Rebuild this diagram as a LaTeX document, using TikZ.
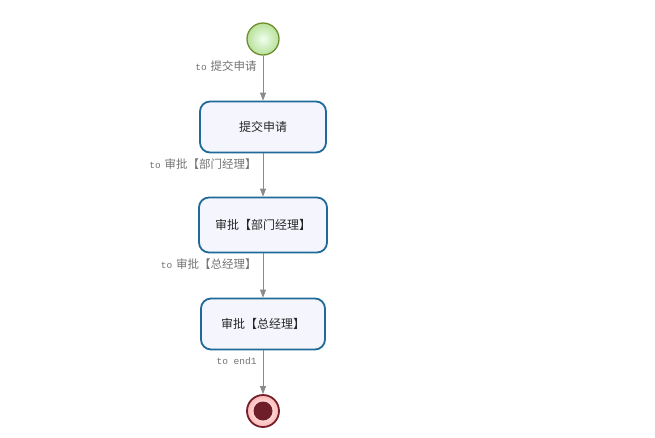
\documentclass[tikz,border=0pt]{standalone}
\usepackage{fontspec}
\usetikzlibrary{arrows.meta}
\newfontfamily\cjk{Noto Sans CJK SC}
\newfontfamily\labmono{Liberation Mono}
\definecolor{boxline}{HTML}{1E6A98}
\definecolor{boxfill}{HTML}{F5F6FD}
\definecolor{startline}{HTML}{6E8E2E}
\definecolor{endline}{HTML}{74202A}
\definecolor{flowgray}{HTML}{8A8A8A}
\tikzset{
  task/.style={draw=boxline, line width=1.8pt, fill=boxfill, rounded corners=10pt,
    minimum width=126pt, minimum height=51pt, font=\cjk\fontsize{12}{14}\selectfont, text=black!85},
  flow/.style={draw=flowgray, line width=0.9pt, -{Triangle[length=8pt,width=6pt]}},
  lbl/.style={pos=0.24, anchor=east, xshift=-6pt, inner sep=0pt, text=black!55,
    font=\fontsize{11.5}{13}\selectfont}
}
\newcommand{\tolab}[1]{{\labmono\fontsize{9.5}{13}\selectfont to} {\cjk #1}}
\begin{document}
\begin{tikzpicture}[x=1pt,y=-1pt]
\useasboundingbox (0,0) rectangle (655,437);
%\draw[help lines] (0,0) grid[step=50] (655,437);
\node[circle, minimum size=32pt, draw=startline, line width=1.3pt,
  inner color=green!6!white, outer color=green!40!olive!40!white] (start) at (263,39) {};
\node[task] (submit) at (263,127) {提交申请};
\node[task, minimum width=128pt, minimum height=55pt] (dept) at (263,225) {审批【部门经理】};
\node[task, minimum width=124pt] (gm) at (263,324) {审批【总经理】};
\node[circle, minimum size=32pt, draw=endline, line width=1.8pt,
  inner color=white, outer color=red!30!pink!60!white] (end1) at (263,411) {};
\fill[endline!95!black] (end1) circle (9.5pt);
\draw[flow] (start) -- node[lbl] {\tolab{提交申请}} (submit);
\draw[flow] (submit) -- node[lbl] {\tolab{审批【部门经理】}} (dept);
\draw[flow] (dept) -- node[lbl] {\tolab{审批【总经理】}} (gm);
\draw[flow] (gm) -- node[lbl] {{\labmono\fontsize{9.5}{13}\selectfont to end1}} (end1);
\end{tikzpicture}
\end{document}
